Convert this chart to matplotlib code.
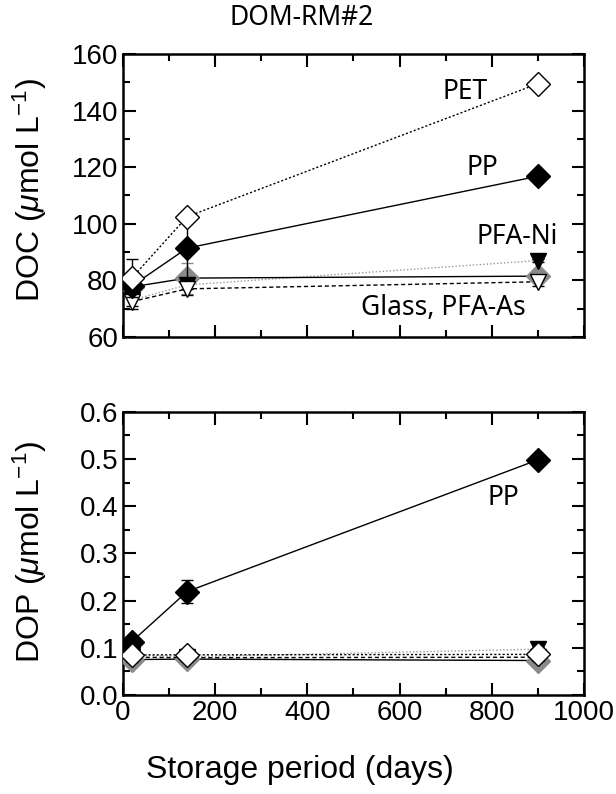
import matplotlib
matplotlib.use('Agg')
import matplotlib.pyplot as plt
from matplotlib.ticker import MultipleLocator

# storage days
days = [19, 139, 900]

# DOC (umol/L)
doc_pet = [80.8, 102.5, 149.5]
doc_pet_err = [6.8, 2.0, 1.0]
doc_pp = [78.0, 91.4, 116.8]
doc_pp_err = [1.0, 11.0, 0.5]
doc_glass = [77.7, 80.8, 81.5]
doc_glass_err = [1.5, 5.5, 0.5]
doc_ni = [73.0, 78.4, 87.0]
doc_ni_err = [2.0, 1.5, 0.5]
doc_as = [72.5, 77.0, 79.5]
doc_as_err = [2.5, 2.0, 1.5]

# DOP (umol/L)
dop_pet = [0.085, 0.085, 0.086]
dop_pet_err = [0.008, 0.008, 0.005]
dop_pp = [0.113, 0.219, 0.498]
dop_pp_err = [0.005, 0.025, 0.006]
dop_glass = [0.075, 0.076, 0.073]
dop_glass_err = [0.005, 0.004, 0.004]
dop_ni = [0.085, 0.081, 0.097]
dop_ni_err = [0.006, 0.006, 0.004]
dop_as = [0.080, 0.079, 0.080]
dop_as_err = [0.010, 0.008, 0.008]

plt.rcParams['font.family'] = ['Liberation Sans', 'DejaVu Sans']
plt.rcParams['mathtext.fontset'] = 'custom'
plt.rcParams['mathtext.rm'] = 'Liberation Sans'
plt.rcParams['mathtext.it'] = 'Liberation Sans:italic'

GRAY = '#8a8a8a'
MS = 12


def draw(ax, pet, pet_e, pp, pp_e, gl, gl_e, ni, ni_e, pa, pa_e):
    # glass: gray diamond, solid line
    ax.errorbar(days, gl, yerr=gl_e, fmt='-D', color='black', mfc=GRAY, mec=GRAY,
                ecolor=GRAY, ms=MS, lw=1, elinewidth=1, capsize=4, zorder=3)
    # PFA-Ni: filled down triangle, light dotted
    ax.errorbar(days, ni, yerr=ni_e, fmt='v', color='black', ms=MS, ecolor='black',
                elinewidth=1, capsize=4, zorder=4)
    ax.plot(days, ni, ls=(0, (1, 1.5)), color='#999999', lw=1, zorder=2)
    # PFA-As: open down triangle, dashed
    ax.errorbar(days, pa, yerr=pa_e, fmt='v', color='black', mfc='white', mec='black',
                ms=MS, ecolor='black', elinewidth=1, capsize=4, zorder=5)
    ax.plot(days, pa, ls=(0, (3, 2)), color='black', lw=1, zorder=2)
    # PP: filled diamond, solid
    ax.errorbar(days, pp, yerr=pp_e, fmt='-D', color='black', ms=MS, lw=1,
                elinewidth=1, capsize=4, zorder=6)
    # PET: open diamond, dotted
    ax.errorbar(days, pet, yerr=pet_e, fmt='D', color='black', mfc='white', mec='black',
                ms=MS, ecolor='black', elinewidth=1, capsize=4, zorder=7)
    ax.plot(days, pet, ls=(0, (1.5, 1.5)), color='black', lw=1, zorder=2)


def style(ax):
    ax.set_xlim(0, 1000)
    ax.xaxis.set_major_locator(MultipleLocator(200))
    ax.xaxis.set_minor_locator(MultipleLocator(100))
    ax.tick_params(which='both', direction='in', top=True, right=True,
                   width=1.5, labelsize=20)
    ax.tick_params(which='major', length=9)
    ax.tick_params(which='minor', length=5)
    for s in ax.spines.values():
        s.set_linewidth(1.8)


fig = plt.figure(figsize=(6.16, 7.94), dpi=100)
ax1 = fig.add_axes([0.1997, 0.5756, 0.7483, 0.3564])
ax2 = fig.add_axes([0.1997, 0.1247, 0.7483, 0.3568])

draw(ax1, doc_pet, doc_pet_err, doc_pp, doc_pp_err, doc_glass, doc_glass_err,
     doc_ni, doc_ni_err, doc_as, doc_as_err)
style(ax1)
ax1.set_ylim(60, 160)
ax1.yaxis.set_major_locator(MultipleLocator(20))
ax1.yaxis.set_minor_locator(MultipleLocator(10))
ax1.tick_params(labelbottom=False)

draw(ax2, dop_pet, dop_pet_err, dop_pp, dop_pp_err, dop_glass, dop_glass_err,
     dop_ni, dop_ni_err, dop_as, dop_as_err)
style(ax2)
ax2.set_ylim(0, 0.6)
ax2.yaxis.set_major_locator(MultipleLocator(0.1))
ax2.yaxis.set_minor_locator(MultipleLocator(0.05))
ax2.yaxis.set_major_formatter(plt.FormatStrFormatter('%.1f'))

lab_font = ['Noto Sans', 'DejaVu Sans']
ax1.text(742, 146.6, 'PET', fontsize=19, ha='center', va='center', family=lab_font)
ax1.text(779, 119.7, 'PP', fontsize=19, ha='center', va='center', family=lab_font)
ax1.text(855, 95.3, 'PFA-Ni', fontsize=19, ha='center', va='center', family=lab_font)
ax1.text(694, 70.2, 'Glass, PFA-As', fontsize=19, ha='center', va='center', family=lab_font)
ax2.text(826, 0.417, 'PP', fontsize=19, ha='center', va='center', family=lab_font)

fig.text(0.489, 0.977, 'DOM-RM#2', fontsize=19, ha='center', va='center', family=lab_font)
fig.text(0.049, 0.76, r'DOC ($\mu$mol L$^{-1}$)', fontsize=23, rotation=90,
         ha='center', va='center')
fig.text(0.049, 0.305, r'DOP ($\mu$mol L$^{-1}$)', fontsize=23, rotation=90,
         ha='center', va='center')
fig.text(0.486, 0.03, 'Storage period (days)', fontsize=23, ha='center', va='center')

fig.savefig('out.png', dpi=100)
